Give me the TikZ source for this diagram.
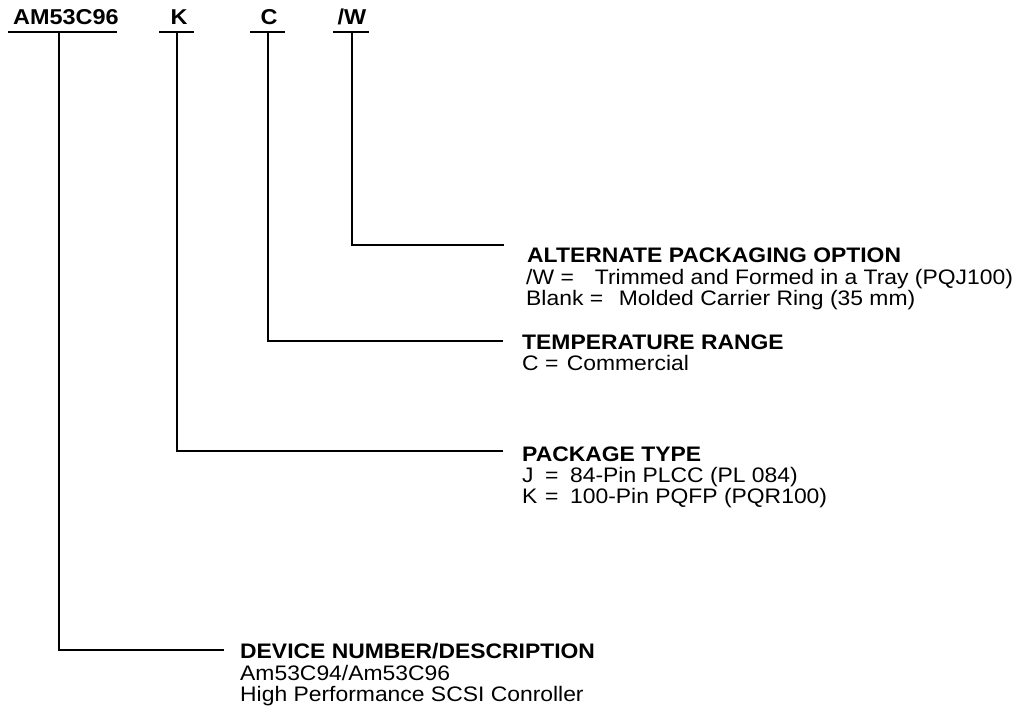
\documentclass[tikz,border=0pt]{standalone}
\usepackage{fontspec}
\setmainfont{Liberation Sans}[FakeStretch=1.09]
\usetikzlibrary{calc}
\begin{document}
\begin{tikzpicture}[x=1pt,y=-1pt,
  lbl/.style={font=\bfseries\fontsize{21.5}{22}\selectfont, inner sep=0pt, anchor=base},
  head/.style={font=\bfseries\fontsize{21}{22}\selectfont, inner sep=0pt, anchor=base west},
  body/.style={font=\fontsize{21}{22}\selectfont, inner sep=0pt, anchor=base west},
  wire/.style={line width=1.5pt, line cap=rect},
]
\useasboundingbox (0,0) rectangle (1025,717);

% top labels
\node[lbl] (pn) at (66,25) {AM53C96};
\node[lbl] (pk) at (179,25) {K};
\node[lbl] (pc) at (269,25) {C};
\node[lbl] (pw) at (352,25) {/W};

% underlines
\coordinate (u1l) at (9,32);   \coordinate (u1r) at (116,32);
\coordinate (u2l) at (160,32); \coordinate (u2r) at (193,32);
\coordinate (u3l) at (251,32); \coordinate (u3r) at (284,32);
\coordinate (u4l) at (334,32); \coordinate (u4r) at (368,32);
\draw[wire] (u1l) -- (u1r);
\draw[wire] (u2l) -- (u2r);
\draw[wire] (u3l) -- (u3r);
\draw[wire] (u4l) -- (u4r);

% stems
\coordinate (s1) at (59,32);
\coordinate (s2) at (177,32);
\coordinate (s3) at (268,32);
\coordinate (s4) at (352,32);

% headers and descriptions
\node[head] (hw) at (527,262) {ALTERNATE PACKAGING OPTION};
\node[body] (bw1) at (526,284) {/W =\hspace{1em}Trimmed and Formed in a Tray (PQJ100)};
\node[body] (bw2) at (526,305) {Blank =\hspace{0.75em}Molded Carrier Ring (35 mm)};

\node[head] (ht) at (522,349) {TEMPERATURE RANGE};
\node[body] (bt1) at (522,370) {C =\hspace{0.4em}Commercial};

\node[head] (hp) at (522,461) {PACKAGE TYPE};
\node[body] (bp1) at (522,482) {\makebox[23pt][l]{J}=\hspace{0.55em}84-Pin PLCC (PL 084)};
\node[body] (bp2) at (522,503) {\makebox[23pt][l]{K}=\hspace{0.55em}100-Pin PQFP (PQR100)};

\node[head] (hd) at (240,658) {DEVICE NUMBER/DESCRIPTION};
\node[body] (bd1) at (240,680) {Am53C94/Am53C96};
\node[body] (bd2) at (240,701) {High Performance SCSI Conroller};

% end points of connectors
\coordinate (e4) at (503,245);
\coordinate (e3) at (502,341);
\coordinate (e2) at (502,451);
\coordinate (e1) at (223,650);

\draw[wire] (s4) |- (e4);
\draw[wire] (s3) |- (e3);
\draw[wire] (s2) |- (e2);
\draw[wire] (s1) |- (e1);
\end{tikzpicture}
\end{document}
